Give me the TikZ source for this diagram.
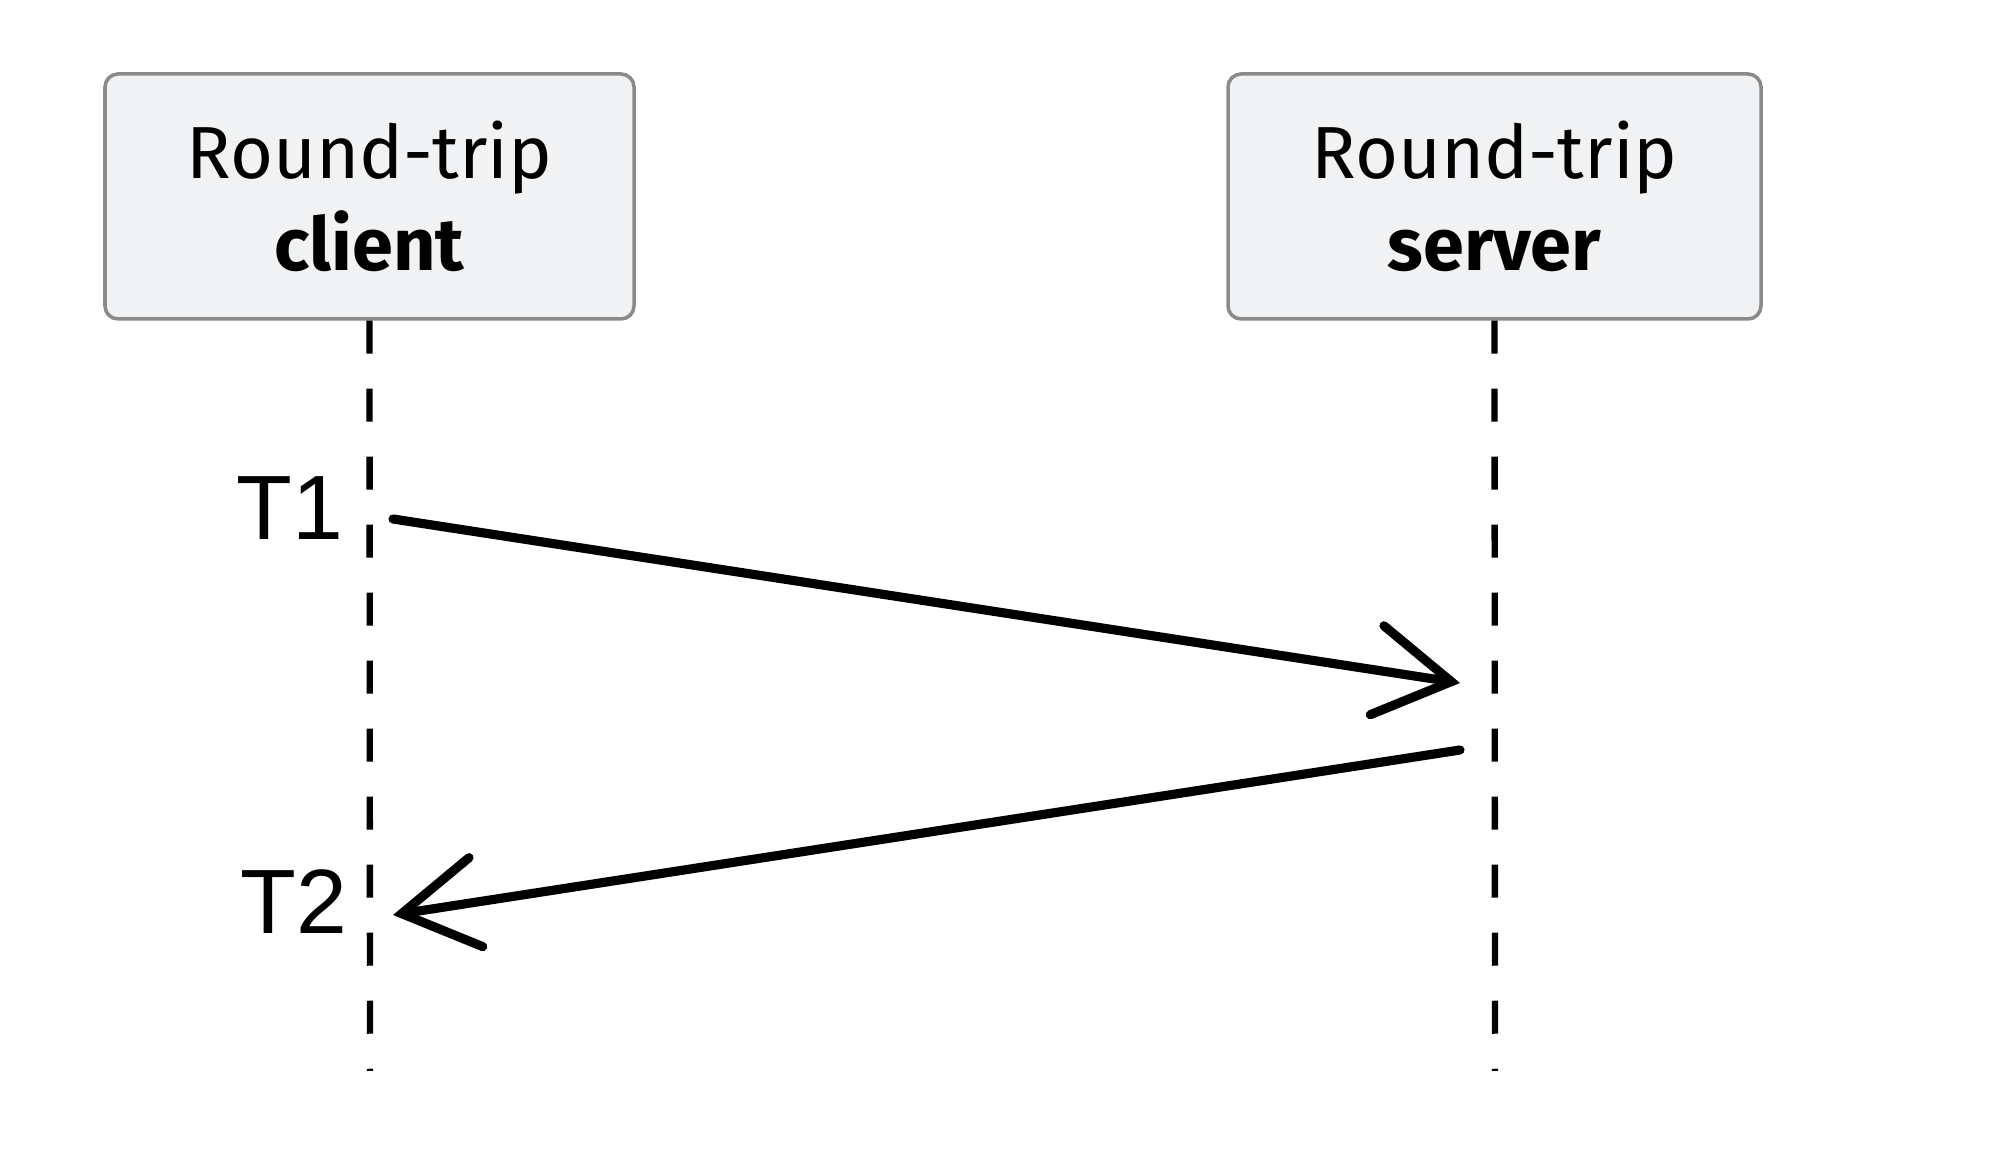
\documentclass[tikz,border=0pt]{standalone}
\usepackage{fontspec}
\setmainfont{Fira Sans}
\newfontfamily\labelfont{Liberation Sans}
\usetikzlibrary{positioning, arrows.meta}

\definecolor{boxfill}{HTML}{F1F2F4}
\definecolor{boxline}{HTML}{8A8A8A}

\begin{document}
\begin{tikzpicture}[>={Straight Barb[length=7.5mm, width=9mm, line cap=round]}]
		\useasboundingbox (0, 0) rectangle (20, -11.56);
		% participants
		\node[draw=boxline, line width=1pt, rounded corners=1.3mm, fill=boxfill, minimum width=52.9mm, minimum height=24.5mm, align=center, font=\fontsize{21}{26}\selectfont] (client) at (3.695, -1.965) {Round-trip\\\textbf{client}};
		\node[draw=boxline, line width=1pt, rounded corners=1.3mm, fill=boxfill, minimum width=53.3mm, minimum height=24.5mm, align=center, font=\fontsize{21}{26}\selectfont] (server) at (14.945, -1.965) {Round-trip\\\textbf{server}};
		% lifelines
		\coordinate (clientend) at (3.70, -10.71);
		\coordinate (serverend) at (14.95, -10.71);
		\draw [line width=1.8pt, dash pattern=on 3.3mm off 3.5mm] (client.south) -- (clientend);
		\draw [line width=1.8pt, dash pattern=on 3.3mm off 3.5mm] (server.south) -- (serverend);
		% messages
		\coordinate (sendA) at (3.93, -5.19);
		\coordinate (recvA) at (14.60, -6.83);
		\coordinate (sendB) at (14.60, -7.50);
		\coordinate (recvB) at (3.93, -9.15);
		\draw [->, line width=2.6pt, line cap=round] (sendA) -- (recvA);
		\draw [->, line width=2.6pt, line cap=round] (sendB) -- (recvB);
		\node [left, font=\labelfont\fontsize{26}{30}\selectfont, inner sep=0pt] (T1) at (3.44, -5.08) {T1};
		\node [left, font=\labelfont\fontsize{26}{30}\selectfont, inner sep=0pt] (T2) at (3.48, -9.02) {T2};
	\end{tikzpicture}
\end{document}
